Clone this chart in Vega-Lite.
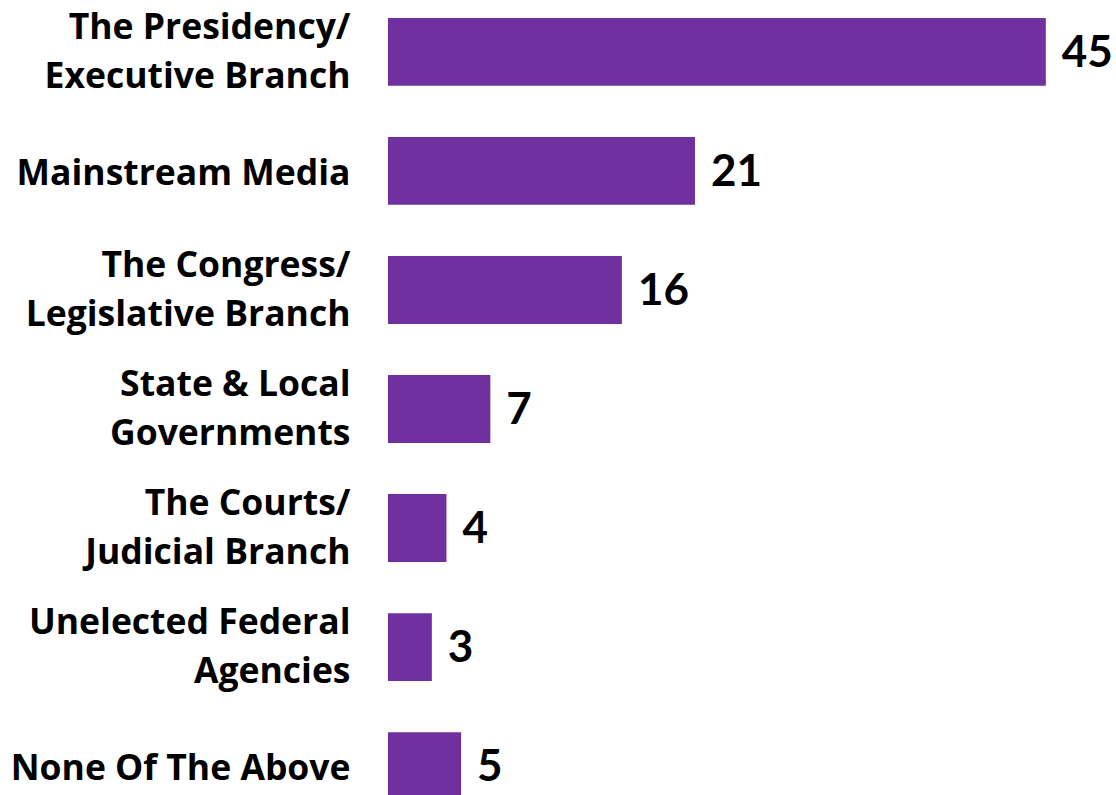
{
  "$schema": "https://vega.github.io/schema/vega-lite/v6.json",
  "autosize": {"type": "none"},
  "padding": {"left": 388, "top": 18, "right": 0, "bottom": 0},
  "width": 728,
  "height": 782,
  "background": "white",
  "config": {"view": {"stroke": null}},
  "data": {"values": [
    {"category": "The Presidency/|Executive Branch", "value": 45},
    {"category": "Mainstream Media", "value": 21},
    {"category": "The Congress/|Legislative Branch", "value": 16},
    {"category": "State & Local|Governments", "value": 7},
    {"category": "The Courts/|Judicial Branch", "value": 4},
    {"category": "Unelected Federal|Agencies", "value": 3},
    {"category": "None Of The Above", "value": 5}
  ]},
  "encoding": {
    "y": {
      "field": "category", "type": "nominal", "sort": null,
      "scale": {"paddingInner": 0.43, "paddingOuter": 0},
      "axis": {
        "title": null, "ticks": false, "domain": false, "grid": false,
        "labelExpr": "split(datum.label, '|')",
        "labelFont": "Open Sans", "labelFontWeight": "bold", "labelFontSize": 35.5,
        "labelColor": "black", "labelPadding": 38, "labelLimit": 0,
        "labelLineHeight": 49,
        "labelOffset": {"condition": {"test": "indexof(datum.label, '|') >= 0", "value": -24}, "value": 3}
      }
    },
    "x": {
      "field": "value", "type": "quantitative",
      "scale": {"domain": [0, 49.8], "nice": false},
      "axis": null
    }
  },
  "layer": [
    {"mark": {"type": "bar", "color": "#7030A0"}},
    {"mark": {"type": "text", "align": "left", "baseline": "middle", "dx": 16, "dy": 2, "font": "Lato", "fontWeight": "bold", "fontSize": 44, "color": "black"},
     "encoding": {"text": {"field": "value", "type": "quantitative"}}}
  ]
}
